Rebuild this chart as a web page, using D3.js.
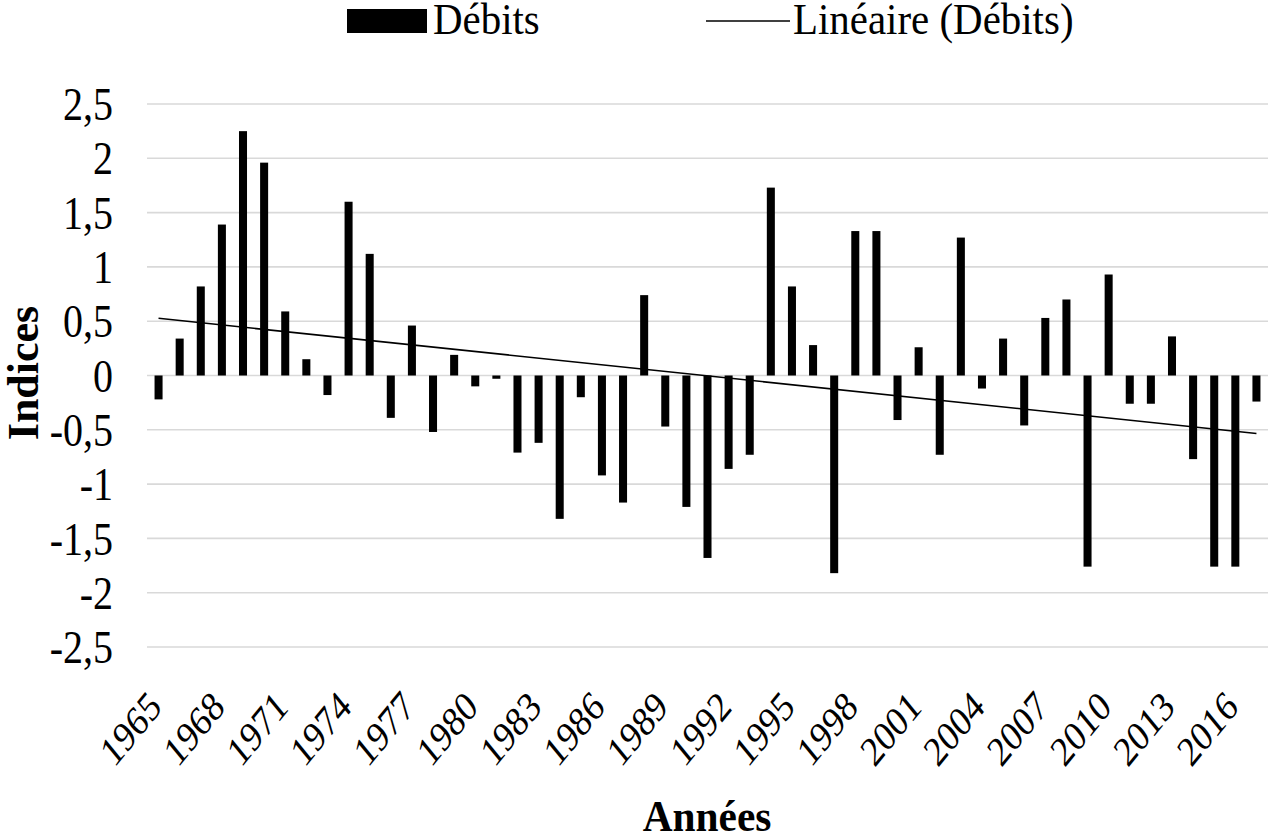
<!DOCTYPE html>
<html>
<head>
<meta charset="utf-8">
<script src="https://cdn.jsdelivr.net/npm/d3@7"></script>
<style>
  html, body { margin: 0; padding: 0; background: #fff; }
  svg { display: block; font-family: "Liberation Serif", "Times New Roman", serif; }
</style>
</head>
<body>
<svg id="chart" width="1269" height="839"></svg>
<script>
// ---- data ----
const years = d3.range(1965, 2018);
const debits = [
  -0.22, 0.34, 0.82, 1.39, 2.25, 1.96, 0.59, 0.15, -0.18, 1.60,
   1.12, -0.39, 0.46, -0.52, 0.19, -0.10, -0.03, -0.71, -0.62, -1.32,
  -0.20, -0.92, -1.17, 0.74, -0.47, -1.21, -1.68, -0.86, -0.73, 1.73,
   0.82, 0.28, -1.82, 1.33, 1.33, -0.41, 0.26, -0.73, 1.27, -0.12,
   0.34, -0.46, 0.53, 0.70, -1.76, 0.93, -0.26, -0.26, 0.36, -0.77,
  -1.76, -1.76, -0.24
];
const yTicks = [-2.5, -2, -1.5, -1, -0.5, 0, 0.5, 1, 1.5, 2, 2.5];
const xTickYears = d3.range(1965, 2018, 3);
const seriesName = "Débits";
const trendName = "Linéaire (Débits)";
const xTitle = "Années";
const yTitle = "Indices";

(function () {
// ---- layout ----
const svg = d3.select("#chart");
const pLeft = 148, pRight = 1267, pTop = 104, pBottom = 647;

const x = d3.scaleBand().domain(years).range([pLeft, pRight]).paddingInner(0.62).paddingOuter(0.31);
const y = d3.scaleLinear().domain([-2.5, 2.5]).range([pBottom, pTop]);

// gridlines
svg.append("g").selectAll("line").data(yTicks).join("line")
  .attr("x1", pLeft - 1).attr("x2", pRight + 1)
  .attr("y1", d => y(d)).attr("y2", d => y(d))
  .attr("stroke", "#d9d9d9").attr("stroke-width", 1.6);

// y axis
const fmt = d => String(d).replace(".", ",");
const yAxis = svg.append("g").attr("transform", `translate(${pLeft},0)`)
  .call(d3.axisLeft(y).tickValues(yTicks).tickFormat(fmt).tickSize(0));
yAxis.select(".domain").remove();
yAxis.selectAll("text")
  .attr("x", 0).attr("dy", "0.34em")
  .attr("transform", `translate(-35,0) scale(0.87,1)`)
  .attr("font-size", 46).attr("font-family", "Liberation Serif, serif").attr("fill", "#000");

// bars
svg.append("g").selectAll("rect").data(debits).join("rect")
  .attr("x", (d, i) => x(years[i]))
  .attr("width", x.bandwidth())
  .attr("y", d => y(Math.max(0, d)))
  .attr("height", d => Math.abs(y(d) - y(0)))
  .attr("fill", "#000");

// linear trend (least squares)
const n = debits.length;
const mx = d3.mean(years), my = d3.mean(debits);
let sxy = 0, sxx = 0;
years.forEach((yr, i) => { sxy += (yr - mx) * (debits[i] - my); sxx += (yr - mx) * (yr - mx); });
const slope = sxy / sxx, icpt = my - slope * mx;
const ends = [years[0], years[n - 1]];
svg.append("line")
  .attr("x1", x(ends[0]) + x.bandwidth() / 2).attr("x2", x(ends[1]) + x.bandwidth() / 2)
  .attr("y1", y(icpt + slope * ends[0])).attr("y2", y(icpt + slope * ends[1]))
  .attr("stroke", "#000").attr("stroke-width", 1.6);

// x axis labels
const xAxis = svg.append("g").attr("transform", `translate(0,${pBottom})`)
  .call(d3.axisBottom(x).tickValues(xTickYears).tickSize(0));
xAxis.select(".domain").remove();
xAxis.selectAll(".tick text")
  .attr("x", 0).attr("y", 0).attr("dy", 0)
  .attr("text-anchor", "end")
  .attr("transform", `translate(4.5,62) scale(0.82,1) rotate(-45)`)
  .attr("font-size", 42).attr("font-family", "Liberation Serif, serif").attr("fill", "#000");

// axis titles
svg.append("text").attr("transform", `translate(707,831) scale(0.94,1)`)
  .attr("text-anchor", "middle").attr("font-weight", "bold").attr("font-size", 44).text(xTitle);
svg.append("text").attr("transform", `translate(38,373) rotate(-90)`)
  .attr("text-anchor", "middle").attr("font-weight", "bold").attr("font-size", 44).text(yTitle);

// legend
svg.append("rect").attr("x", 347).attr("y", 9).attr("width", 80).attr("height", 24).attr("fill", "#000");
svg.append("text").attr("transform", `translate(433,34) scale(0.93,1)`).attr("font-size", 44).text(seriesName);
svg.append("line").attr("x1", 706).attr("x2", 790).attr("y1", 21).attr("y2", 21).attr("stroke", "#000").attr("stroke-width", 1.6);
svg.append("text").attr("transform", `translate(793,34) scale(0.93,1)`).attr("font-size", 44).text(trendName);
})();
</script>
</body>
</html>
